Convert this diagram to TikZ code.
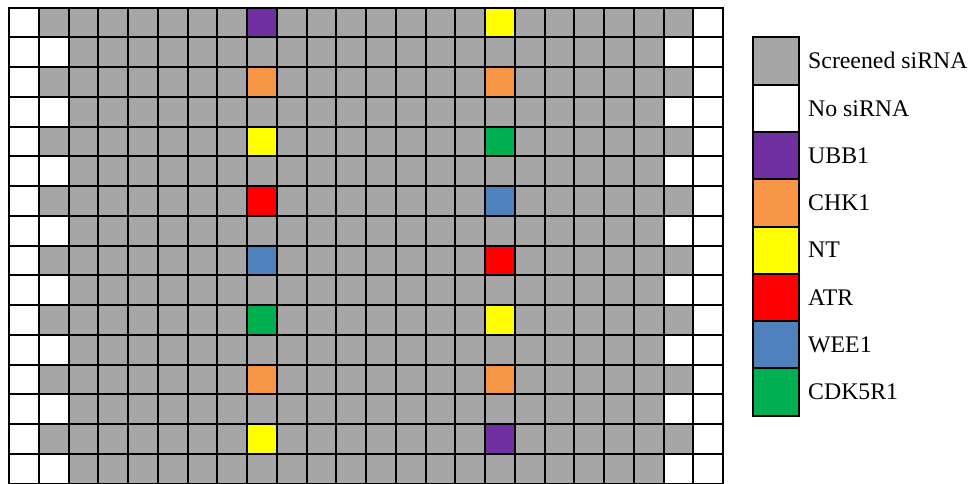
\documentclass[tikz,border=0pt]{standalone}
\usepackage{fontspec}
\setmainfont{Liberation Serif}
\definecolor{scr}{HTML}{A6A6A6}
\definecolor{ubb}{HTML}{7030A0}
\definecolor{chk}{HTML}{F79646}
\definecolor{ntc}{HTML}{FFFF00}
\definecolor{atr}{HTML}{FF0000}
\definecolor{wee}{HTML}{4F81BD}
\definecolor{cdk}{HTML}{00B050}
\begin{document}
\begin{tikzpicture}[x=1pt,y=-1pt,
  gridline/.style={draw=black,line width=2pt,line cap=rect},
  legbox/.style={draw=black,line width=2pt,minimum width=46pt,minimum height=47.3pt,inner sep=0pt,outer sep=0pt},
  legtext/.style={anchor=base west,inner sep=0pt,font=\fontsize{23.8}{26}\selectfont}]
\useasboundingbox (0,0) rectangle (978,483);
\def\cs{29.76}
\def\gx{9}
\def\gy{7.5}
% base gray
\fill[scr] (\gx,\gy) rectangle ({\gx+24*\cs},{\gy+16*\cs});
% white columns 1 and 24
\fill[white] (\gx,\gy) rectangle ({\gx+\cs},{\gy+16*\cs});
\fill[white] ({\gx+23*\cs},\gy) rectangle ({\gx+24*\cs},{\gy+16*\cs});
% white even rows in columns 2 and 23
\foreach \r in {2,4,...,16}{
  \fill[white] ({\gx+\cs},{\gy+(\r-1)*\cs}) rectangle ++(\cs,\cs);
  \fill[white] ({\gx+22*\cs},{\gy+(\r-1)*\cs}) rectangle ++(\cs,\cs);
}
% coloured controls: column 9 and column 17
\foreach \r/\ca/\cb in {1/ubb/ntc,3/chk/chk,5/ntc/cdk,7/atr/wee,9/wee/atr,11/cdk/ntc,13/chk/chk,15/ntc/ubb}{
  \fill[\ca] ({\gx+8*\cs},{\gy+(\r-1)*\cs}) rectangle ++(\cs,\cs);
  \fill[\cb] ({\gx+16*\cs},{\gy+(\r-1)*\cs}) rectangle ++(\cs,\cs);
}
% grid lines
\foreach \i in {0,...,24}
  \draw[gridline] ({\gx+\i*\cs},\gy) -- ({\gx+\i*\cs},{\gy+16*\cs});
\foreach \j in {0,...,16}
  \draw[gridline] (\gx,{\gy+\j*\cs}) -- ({\gx+24*\cs},{\gy+\j*\cs});
% legend
\foreach \k/\col/\lab in {1/scr/Screened siRNA,2/white/No siRNA,3/ubb/UBB1,4/chk/CHK1,5/ntc/NT,6/atr/ATR,7/wee/WEE1,8/cdk/CDK5R1}{
  \node[legbox,fill=\col] (box\k) at (776,{37.3+(\k-0.5)*47.3}) {};
  \node[legtext] (lab\k) at (808,{37.3+(\k-0.5)*47.3+7.8}) {\lab};
}
\end{tikzpicture}
\end{document}
